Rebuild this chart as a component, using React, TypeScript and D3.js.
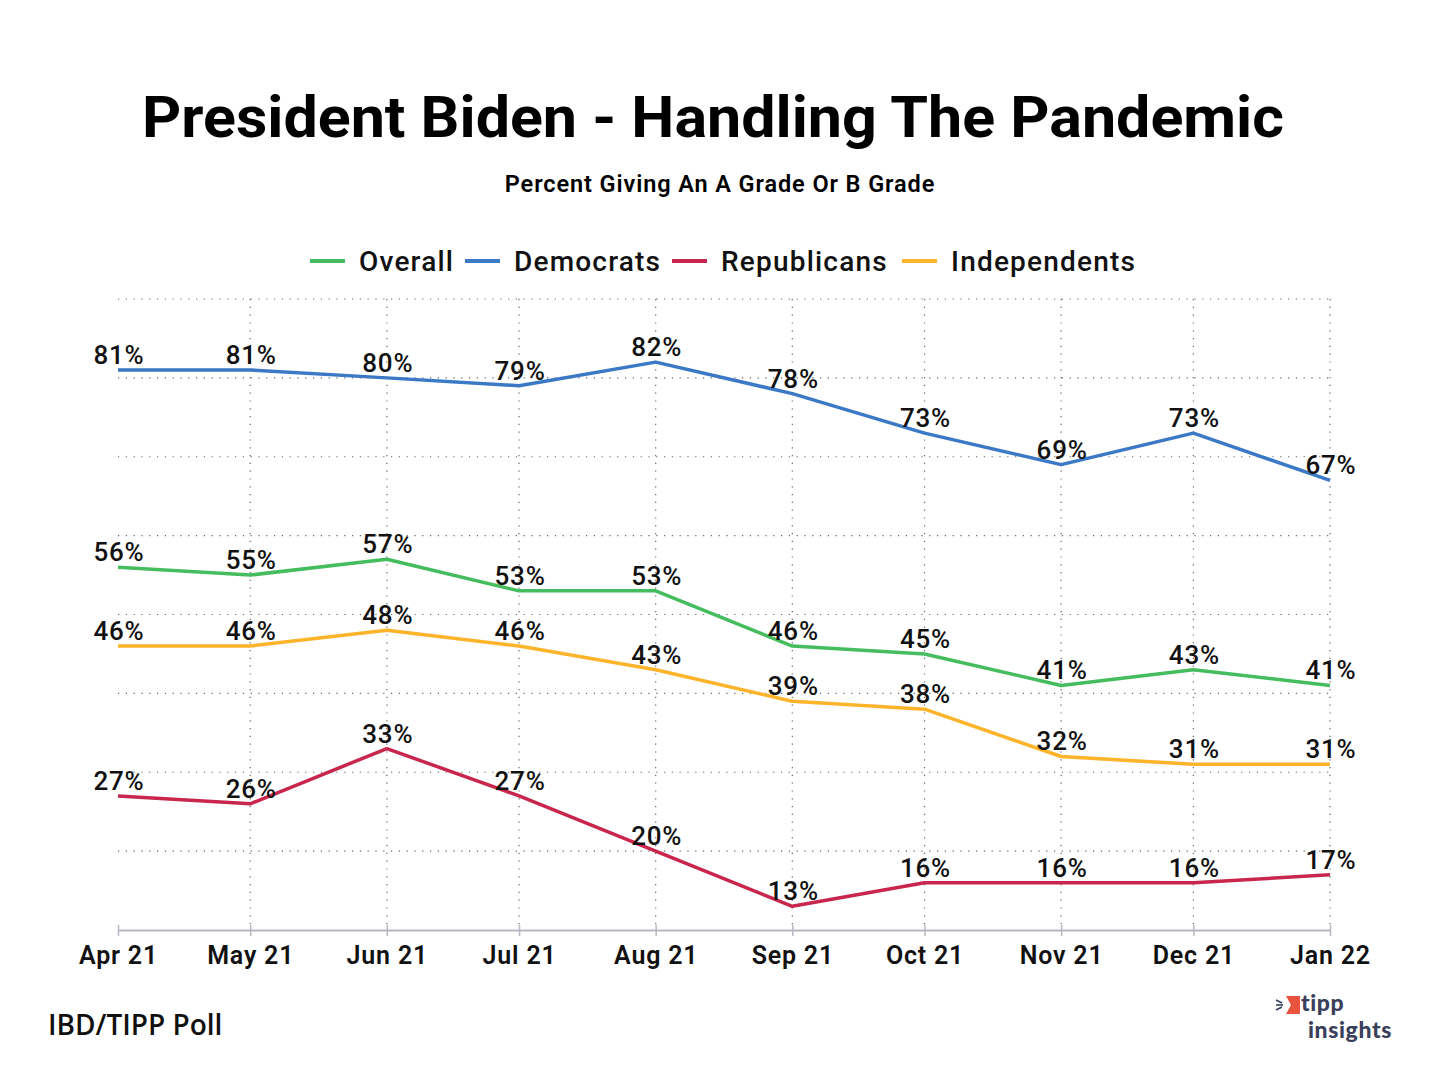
import { useEffect, useRef } from "react";
import * as d3 from "d3";

const months = ["2021-04", "2021-05", "2021-06", "2021-07", "2021-08", "2021-09", "2021-10", "2021-11", "2021-12", "2022-01"];
const overall = [56, 55, 57, 53, 53, 46, 45, 41, 43, 41];
const democrats = [81, 81, 80, 79, 82, 78, 73, 69, 73, 67];
const republicans = [27, 26, 33, 27, 20, 13, 16, 16, 16, 17];
const independents = [46, 46, 48, 46, 43, 39, 38, 32, 31, 31];
const yTicks = [10, 20, 30, 40, 50, 60, 70, 80, 90];

const seriesList = [
  { name: "Overall", values: overall, color: "#45bd5f" },
  { name: "Democrats", values: democrats, color: "#3b78c6" },
  { name: "Republicans", values: republicans, color: "#c8264d" },
  { name: "Independents", values: independents, color: "#fdb42b" },
];

const W = 1440,
  H = 1080;
const left = 118,
  right = 1330,
  top = 299,
  bottom = 930;
const FONT = "Roboto, 'Open Sans', sans-serif";

export default function App() {
  const ref = useRef<SVGSVGElement>(null);

  useEffect(() => {
    document.body.style.margin = "0";
    if (!ref.current) return;
    const svg = d3.select(ref.current);
    svg.selectAll("*").remove();

    const parse = d3.timeParse("%Y-%m");
    const dates = months.map((m) => parse(m) as Date);
    const x = d3.scaleTime().domain(d3.extent(dates) as [Date, Date]).range([left, right]);
    const y = d3.scaleLinear().domain([10, 90]).range([bottom, top]);

    svg.append("rect").attr("width", W).attr("height", H).attr("fill", "#fff");

    // titles
    svg
      .append("text")
      .attr("x", 713)
      .attr("y", 137)
      .attr("text-anchor", "middle")
      .attr("font-family", FONT)
      .attr("font-weight", 700)
      .attr("font-size", 58)
      .attr("textLength", 1142)
      .attr("lengthAdjust", "spacingAndGlyphs")
      .text("President Biden - Handling The Pandemic");
    svg
      .append("text")
      .attr("x", 720)
      .attr("y", 192)
      .attr("text-anchor", "middle")
      .attr("font-family", FONT)
      .attr("font-weight", 600)
      .attr("font-size", 23.5)
      .attr("letter-spacing", 0.9)
      .text("Percent Giving An A Grade Or B Grade");

    // legend
    const legendX = [310, 465, 672, 902];
    const lg = svg
      .append("g")
      .attr("font-family", FONT)
      .attr("font-size", 28)
      .attr("font-weight", 500)
      .attr("letter-spacing", 1.2);
    seriesList.forEach((s, i) => {
      const g = lg.append("g").attr("transform", `translate(${legendX[i]},261)`);
      g.append("line").attr("x1", 0).attr("x2", 35).attr("stroke", s.color).attr("stroke-width", 4);
      g.append("text").attr("x", 49).attr("dy", "0.36em").attr("fill", "#111").text(s.name);
    });

    // grid
    const grid = svg.append("g").attr("stroke", "#666").attr("stroke-width", 1.2).attr("stroke-dasharray", "1.2,6.6");
    yTicks
      .filter((t) => t > 10)
      .forEach((t) => {
        grid.append("line").attr("x1", left).attr("x2", right).attr("y1", y(t)).attr("y2", y(t));
      });
    dates.slice(1).forEach((d) => {
      grid.append("line").attr("x1", x(d)).attr("x2", x(d)).attr("y1", top).attr("y2", bottom);
    });

    // x axis
    const axis = svg
      .append("g")
      .attr("transform", `translate(0,${bottom})`)
      .call(
        d3
          .axisBottom(x)
          .tickValues(dates)
          .tickFormat((d) => d3.timeFormat("%b %y")(d as Date))
          .tickSize(6)
          .tickPadding(10)
          .tickSizeOuter(0)
      );
    axis.select(".domain").attr("stroke", "#b8b8c4").attr("stroke-width", 2);
    axis.selectAll(".tick line").attr("stroke", "#b8b8c4").attr("stroke-width", 1.5).attr("y1", -5);
    axis
      .selectAll(".tick text")
      .attr("font-family", FONT)
      .attr("font-size", 25)
      .attr("font-weight", 600)
      .attr("letter-spacing", 0.8)
      .attr("fill", "#111");

    // lines
    const lineGen = d3
      .line<number>()
      .x((_d, i) => x(dates[i]))
      .y((d) => y(d));
    seriesList.forEach((s) => {
      svg
        .append("path")
        .attr("d", lineGen(s.values) || "")
        .attr("fill", "none")
        .attr("stroke", s.color)
        .attr("stroke-width", 3.5)
        .attr("stroke-linejoin", "round");
    });

    // labels
    const labels = svg
      .append("g")
      .attr("font-family", FONT)
      .attr("font-size", 26)
      .attr("font-weight", 500)
      .attr("letter-spacing", 0.8)
      .attr("fill", "#111");
    seriesList.forEach((s) => {
      s.values.forEach((v, i) => {
        labels
          .append("text")
          .attr("x", x(dates[i]) + 1)
          .attr("y", y(v) - 6)
          .attr("text-anchor", "middle")
          .text(`${v}%`);
      });
    });

    // footer
    svg
      .append("text")
      .attr("x", 48)
      .attr("y", 1035)
      .attr("font-family", "'Open Sans', sans-serif")
      .attr("font-weight", 600)
      .attr("font-size", 28)
      .attr("fill", "#111")
      .text("IBD/TIPP Poll");

    // logo
    const logo = svg.append("g").attr("transform", "translate(1276,996)");
    logo.append("path").attr("d", "M10,0 H24 V18 H10 L15,9 Z").attr("fill", "#e8533f");
    logo
      .append("g")
      .attr("stroke", "#3a3f5c")
      .attr("stroke-width", 1.6)
      .selectAll("line")
      .data([
        [0, 4, 6, 7],
        [0, 9, 7, 9],
        [0, 14, 6, 11],
      ])
      .join("line")
      .attr("x1", (d) => d[0])
      .attr("y1", (d) => d[1])
      .attr("x2", (d) => d[2])
      .attr("y2", (d) => d[3]);
    const lt = logo
      .append("g")
      .attr("font-family", "Lato, sans-serif")
      .attr("font-weight", 900)
      .attr("font-size", 23)
      .attr("letter-spacing", 0.6)
      .attr("fill", "#3a3f5c");
    lt.append("text").attr("x", 25).attr("y", 15).text("tipp");
    lt.append("text").attr("x", 32).attr("y", 42).text("insights");
  }, []);

  return <svg ref={ref} width={W} height={H} viewBox={`0 0 ${W} ${H}`} style={{ display: "block" }} />;
}
